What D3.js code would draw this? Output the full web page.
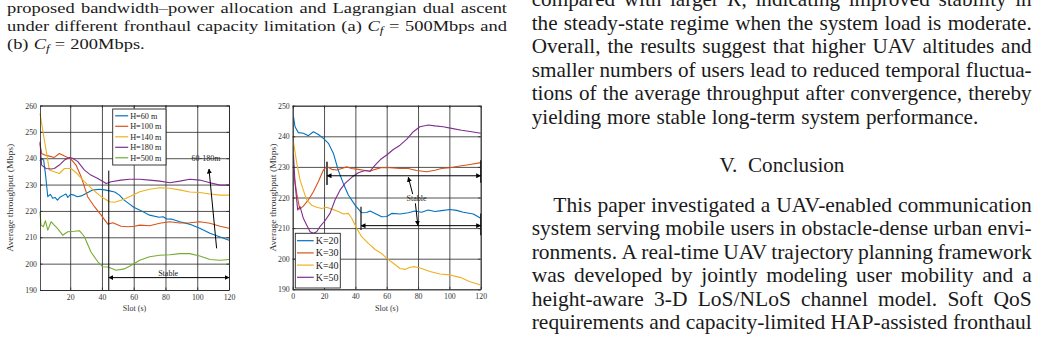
<!DOCTYPE html>
<html>
<head>
<meta charset="utf-8">
<script src="https://cdn.jsdelivr.net/npm/d3@7"></script>
<style>
  body { margin: 0; background: #fff; }
  svg { display: block; }
</style>
</head>
<body>
<svg id="page" width="1040" height="339"></svg>
<script>
// ---- data ----
const slotTicksA = [20, 40, 60, 80, 100, 120];
const slotTicksB = [0, 20, 40, 60, 80, 100, 120];
const thrTicksA = [190, 200, 210, 220, 230, 240, 250, 260];
const thrTicksB = [190, 200, 210, 220, 230, 240, 250];

// (a) Cf = 500Mbps, different altitudes
const heightNames = ['H=60 m', 'H=100 m', 'H=140 m', 'H=180 m', 'H=500 m'];
const slotH60 = [1, 1.6, 3.3, 4.4, 5.9, 7.5, 9, 10.5, 12, 13.8, 16, 17.4, 18.5, 20.2, 22.3, 24.4, 27, 30, 34, 38.5, 41.6, 44.8, 48, 51, 54, 57.4, 60, 64, 70, 76, 78.5, 80.6, 83.7, 89, 95, 101.6, 108, 114, 120];
const thrH60 = [238.9, 239.9, 239.3, 234.2, 225.4, 226.3, 224.8, 225.1, 224.1, 225.3, 226, 226.4, 225.1, 226.3, 226, 225.4, 225.7, 226.6, 227.9, 228.2, 228, 227.6, 227.2, 226, 224.1, 222.6, 221.4, 220.3, 218.4, 217.6, 217.8, 217, 216.9, 215.9, 215, 213.4, 211.5, 210.2, 208.9];
const slotH100 = [1, 2, 4, 6.9, 10, 13.2, 16.4, 20.6, 23.7, 26.9, 31, 35.3, 39.5, 43.7, 46.9, 52, 56.4, 60.6, 63.8, 70, 76.4, 82.7, 89, 95.3, 101.6, 108, 114.3, 120];
const thrH100 = [245.6, 241.8, 241.2, 240.8, 240.3, 241.8, 240.8, 239.6, 237.4, 233, 225.4, 221.6, 218.4, 215, 215.5, 214.2, 214, 214.2, 214.6, 214.4, 215.3, 215.9, 215.4, 215.5, 215.9, 215.3, 214.2, 213.4];
const slotH140 = [1, 2.7, 4.8, 6.9, 10, 13.2, 16.4, 20.6, 23.7, 29, 34, 39.5, 44.8, 48, 54, 60.6, 63.8, 70, 76.4, 82.7, 89, 95.3, 101.6, 108, 114.3, 120];
const thrH140 = [257, 250.7, 243.2, 235.5, 234.9, 234.2, 236.1, 236.1, 234.5, 231.1, 228.2, 225.4, 223.5, 223.3, 224.4, 226.3, 227.3, 228.2, 228.8, 228.6, 228, 227.2, 227, 226.4, 226, 226];
const slotH180 = [1, 2, 4.8, 8, 10, 13.2, 16.4, 19.5, 21.6, 24.8, 29, 33, 37.4, 42.7, 45.8, 52, 57.4, 63.8, 70, 76.4, 82.7, 89, 95.3, 101.6, 108, 114.3, 120];
const thrH180 = [246.3, 237.4, 236.1, 235.9, 236.1, 237.4, 239.3, 240.3, 240, 238.7, 235.5, 233.6, 232.3, 230.4, 231.1, 231.7, 232, 232, 231.7, 231.3, 230.7, 231.3, 232, 231.7, 230.7, 229.8, 229.8];
const slotH500 = [1, 1.6, 3.1, 4.4, 5.9, 8, 10, 12.1, 15.3, 18.5, 22.7, 25.8, 29, 33, 37.4, 40.6, 43.7, 49, 54, 57.4, 63.8, 70, 76.4, 82.7, 89, 95.3, 101.6, 108, 114.3, 120];
const thrH500 = [219.7, 214.6, 214, 216.3, 212.7, 215.9, 214.6, 213.3, 210.8, 212.1, 212.3, 212.5, 210.2, 204.5, 200.7, 198.8, 198.7, 197.5, 198, 199, 201.3, 202.6, 203.2, 203.4, 203.8, 203.8, 202.9, 201.6, 201.3, 201.6];

// (b) Cf = 200Mbps, different numbers of users
const userNames = ['K=20', 'K=30', 'K=40', 'K=50'];
const slotK20 = [0.5, 1.5, 3.6, 6.8, 10, 13.2, 16.4, 19.6, 22.8, 26, 29, 32.3, 35.5, 39.8, 44, 47.2, 49.4, 52.6, 56.8, 60, 63.2, 68.5, 73.8, 78, 82.3, 86.5, 90.8, 95, 100.4, 104.6, 108.9, 115.3, 120];
const thrK20 = [246.4, 243.1, 241.2, 241, 240.2, 241.5, 240.6, 239.3, 237.7, 234.4, 229, 224.6, 220.8, 217.5, 215, 215.1, 215.6, 214.8, 213.7, 213.8, 214.8, 214.6, 215, 215.6, 215.2, 215.9, 215.4, 215.7, 216.1, 215.8, 215.2, 214.6, 213.2];
const slotK30 = [0.5, 2.6, 4.5, 6.8, 10, 13.2, 16.4, 19.6, 21.7, 24.9, 28.1, 31.3, 34.5, 37.7, 41.9, 46.2, 49.4, 52.6, 56.8, 62, 68.5, 73.8, 79, 85.5, 90.8, 95, 100.4, 106.8, 113.2, 120];
const thrK30 = [228.5, 221.3, 216.2, 217.2, 219.2, 221.9, 225.2, 229, 230.1, 229.2, 229, 229.5, 230, 229.5, 229.2, 228.8, 228.6, 229.2, 229.8, 229.7, 229.5, 229.5, 228.8, 228.4, 228.9, 229.5, 229.7, 230.3, 230.8, 231.4];
const slotK40 = [0.5, 2.6, 4.7, 6.8, 8.9, 12.1, 15.3, 18.5, 21.7, 24.9, 29.2, 32.3, 35.5, 37.7, 40.9, 44, 48.3, 52.6, 56.8, 60, 64.2, 68.5, 71.7, 74.9, 78, 82.3, 87.6, 94, 100.4, 106.8, 113.2, 120];
const thrK40 = [238.2, 231.2, 225.7, 222.4, 219.2, 217.5, 216.8, 216.4, 216.8, 216.2, 215.4, 214.6, 214.8, 213.2, 209.9, 207.2, 205, 203, 201.7, 200.1, 198.5, 196.8, 196.5, 197.2, 197.4, 196.8, 195.8, 195, 194.7, 193.9, 192.5, 191.4];
const slotK50 = [0.5, 1.5, 3.2, 4.7, 6.8, 8.9, 11.1, 13.2, 15.3, 17.4, 20.6, 23.8, 27, 30.2, 33.4, 37.7, 41.9, 46.2, 49.4, 52.6, 56, 60, 64.2, 68.5, 72.7, 77, 81.2, 86.5, 90.8, 96, 101.4, 107.8, 114.2, 120];
const thrK50 = [234, 224.6, 215.9, 217, 213.2, 211, 208.8, 208.3, 208.8, 210.5, 212.4, 214.8, 219.2, 222.4, 224.6, 226.6, 228.1, 228.8, 228.6, 230.6, 232.4, 233.9, 235.7, 237.1, 239, 241.5, 243.1, 243.7, 243.4, 243.1, 242.6, 242, 241.5, 241];

// MATLAB default line colours
const colors = ['#0072BD', '#D95319', '#EDB120', '#7E2F8E', '#77AC30'];

// ---- surrounding paper text ----
const captionLines = [
  'proposed bandwidth–power allocation and Lagrangian dual ascent',
  'under different fronthaul capacity limitation (a) $C_f$ = 500Mbps and',
  '(b) $C_f$ = 200Mbps.'
];
const bodyLines = [
  'compared with larger $K$, indicating improved stability in',
  'the steady-state regime when the system load is moderate.',
  'Overall, the results suggest that higher UAV altitudes and',
  'smaller numbers of users lead to reduced temporal fluctua-',
  'tions of the average throughput after convergence, thereby',
  'yielding more stable long-term system performance.'
];
const sectionTitle = 'V.  Conclusion';
const conclusionLines = [
  'This paper investigated a UAV-enabled communication',
  'system serving mobile users in obstacle-dense urban envi-',
  'ronments. A real-time UAV trajectory planning framework',
  'was developed by jointly modeling user mobility and a',
  'height-aware 3-D LoS/NLoS channel model. Soft QoS',
  'requirements and capacity-limited HAP-assisted fronthaul'
];

const serif = '"Liberation Serif", "Times New Roman", serif';
const svg = d3.select('#page');
svg.append('rect').attr('width', 1040).attr('height', 339).attr('fill', '#fff');

// write one word, with $..$ parts in italics (X_y gives a subscript)
function addWord(t, word) {
  word.split('$').forEach((part, i) => {
    if (!part) return;
    if (i % 2 === 0) { t.append('tspan').text(part); return; }
    const [base, sub] = part.split('_');
    t.append('tspan').style('font-style', 'italic').text(base);
    if (sub) t.append('tspan').style('font-style', 'italic')
      .style('font-size', '0.7em').attr('dy', '0.25em').text(sub);
  });
}

function wordWidths(words, size) {
  const g = svg.append('g').style('font-family', serif).style('font-size', size + 'px');
  const w = words.map(wd => { const t = g.append('text'); addWord(t, wd); return t.node().getComputedTextLength(); });
  g.remove();
  return w;
}

// a block of lines: font size picked so justified lines fill the column;
// hscale widens the glyphs instead of making them taller
function setBlock(lines, o) {
  const hs = o.hscale || 1;
  const split = lines.map(l => l.split(' ').filter(w => w.length));
  const ratios = [];
  split.forEach((words, i) => {
    if (i >= o.justified) return;
    const w = wordWidths(words, 10);
    const natural = d3.sum(w) + 2.8 * (words.length - 1);
    ratios.push((o.x1 - (i === 0 ? o.x0 + (o.indent || 0) : o.x0)) / hs / natural);
  });
  const size = 10 * d3.mean(ratios) * (o.shrink || 0.99);
  const g = svg.append('g').attr('transform', `scale(${hs},1)`)
    .style('font-family', serif).style('font-size', size + 'px').attr('fill', '#1a1a1a');
  split.forEach((words, i) => {
    const y = o.y0 + i * o.step;
    const nodes = words.map(wd => { const t = g.append('text').attr('y', y); addWord(t, wd); return t; });
    const widths = nodes.map(n => n.node().getComputedTextLength());
    const start = (i === 0 ? o.x0 + (o.indent || 0) : o.x0) / hs;
    const gap = i < o.justified && words.length > 1 ? (o.x1 / hs - start - d3.sum(widths)) / (words.length - 1) : size * 0.28;
    let x = start;
    nodes.forEach((n, k) => { n.attr('x', x); x += widths[k] + gap; });
  });
  return size;
}

setBlock(captionLines, { x0: 7, x1: 507, y0: 12.8, step: 18.3, justified: 2, hscale: 1.18 });
const bodySize = setBlock(bodyLines, { x0: 531.7, x1: 1031.7, y0: 6, step: 23.5, justified: 5 });
setBlock(conclusionLines, { x0: 531.7, x1: 1031.7, indent: 21.6, y0: 211.7, step: 23.5, justified: 6 });
svg.append('text').attr('x', 782).attr('y', 171.7).attr('text-anchor', 'middle')
  .style('font-family', serif).style('font-size', bodySize + 'px').attr('fill', '#1a1a1a')
  .style('white-space', 'pre').text(sectionTitle);

// arrow heads
const defs = svg.append('defs');
defs.append('marker').attr('id', 'head').attr('viewBox', '0 0 10 10')
  .attr('refX', 9).attr('refY', 5).attr('markerWidth', 5).attr('markerHeight', 5)
  .attr('markerUnits', 'userSpaceOnUse').attr('orient', 'auto-start-reverse')
  .append('path').attr('d', 'M0,0 L10,5 L0,10 z').attr('fill', '#000');

function drawPanel(cfg) {
  const x = d3.scaleLinear().domain(cfg.xDomain).range(cfg.xRange);
  const y = d3.scaleLinear().domain(cfg.yDomain).range(cfg.yRange);
  const [L, R] = cfg.xRange, [B, T] = cfg.yRange;
  const g = svg.append('g');

  // grid
  g.append('g').attr('transform', `translate(0,${B})`)
    .call(d3.axisBottom(x).tickValues(cfg.xTicks).tickSize(-(B - T)).tickFormat(''))
    .call(a => a.select('.domain').remove())
    .selectAll('line').attr('stroke', '#e3e3e3').attr('stroke-width', 0.8);
  g.append('g').attr('transform', `translate(${L},0)`)
    .call(d3.axisLeft(y).tickValues(cfg.yTicks).tickSize(-(R - L)).tickFormat(''))
    .call(a => a.select('.domain').remove())
    .selectAll('line').attr('stroke', '#e3e3e3').attr('stroke-width', 0.8);

  // series
  const line = d3.line().x(d => x(d[0])).y(d => y(d[1]));
  cfg.series.forEach((s, i) => {
    g.append('path').datum(d3.zip(s.slots, s.values))
      .attr('fill', 'none').attr('stroke', colors[i]).attr('stroke-width', 1.1)
      .attr('stroke-linejoin', 'round').attr('d', line);
  });

  // axes with inward ticks, box all round
  const tickFont = a => a.selectAll('text').style('font-family', serif).style('font-size', '7.8px').attr('fill', '#333');
  g.append('g').attr('transform', `translate(0,${B})`)
    .call(d3.axisBottom(x).tickValues(cfg.xTicks).tickSizeInner(-2.5).tickSizeOuter(0).tickPadding(4)).call(tickFont);
  g.append('g').attr('transform', `translate(0,${T})`)
    .call(d3.axisTop(x).tickValues(cfg.xTicks).tickSizeInner(-2.5).tickSizeOuter(0).tickFormat(''));
  g.append('g').attr('transform', `translate(${L},0)`)
    .call(d3.axisLeft(y).tickValues(cfg.yTicks).tickSizeInner(-2.5).tickSizeOuter(0).tickPadding(3)).call(tickFont);
  g.append('g').attr('transform', `translate(${R},0)`)
    .call(d3.axisRight(y).tickValues(cfg.yTicks).tickSizeInner(-2.5).tickSizeOuter(0).tickFormat(''));
  g.selectAll('.domain, .tick line').attr('stroke', '#262626').attr('stroke-width', 0.8);

  g.append('text').attr('x', (L + R) / 2).attr('y', 311).attr('text-anchor', 'middle')
    .style('font-family', serif).style('font-size', '8px').attr('fill', '#333').text('Slot (s)');
  g.append('text').attr('transform', `translate(${cfg.yLabelX},${(B + T) / 2}) rotate(-90)`)
    .attr('text-anchor', 'middle').attr('dy', '0.35em')
    .attr('textLength', 108).attr('lengthAdjust', 'spacingAndGlyphs')
    .style('font-family', serif).style('font-size', '8.5px').attr('fill', '#333')
    .text('Average throughput (Mbps)');

  // annotations
  const ann = g.append('g').attr('stroke', '#000').attr('fill', 'none');
  (cfg.segments || []).forEach(s => {
    ann.append('line').attr('x1', x(s[0])).attr('y1', y(s[1])).attr('x2', x(s[2])).attr('y2', y(s[3]))
      .attr('stroke', s[5] || '#000').attr('stroke-width', s[6] || 1)
      .attr('marker-end', s[4] >= 1 ? 'url(#head)' : null)
      .attr('marker-start', s[4] === 2 ? 'url(#head)' : null);
  });
  (cfg.notes || []).forEach(n => {
    g.append('text').attr('x', x(n[0])).attr('y', y(n[1])).attr('text-anchor', 'middle')
      .style('font-family', serif).style('font-size', '8px').attr('fill', '#222').text(n[2]);
  });

  // legend
  const lg = cfg.legend;
  const leg = g.append('g');
  leg.append('rect').attr('x', lg.x).attr('y', lg.y).attr('width', lg.w).attr('height', lg.h)
    .attr('fill', '#fff').attr('stroke', '#262626').attr('stroke-width', 0.9);
  cfg.series.forEach((s, i) => {
    const ry = lg.y + lg.first + i * lg.step;
    leg.append('line').attr('x1', lg.x + lg.pad).attr('x2', lg.x + lg.pad + lg.len)
      .attr('y1', ry).attr('y2', ry).attr('stroke', colors[i]).attr('stroke-width', 1.2);
    leg.append('text').attr('x', lg.x + lg.pad + lg.len + 2).attr('y', ry).attr('dy', '0.35em')
      .style('font-family', serif).style('font-size', lg.size + 'px').attr('fill', '#222').text(s.name);
  });
}

drawPanel({
  xDomain: [1, 120], xRange: [40, 229], yDomain: [190, 260], yRange: [290, 105.5],
  xTicks: slotTicksA, yTicks: thrTicksA, yLabelX: 10,
  series: [
    { name: heightNames[0], slots: slotH60, values: thrH60 },
    { name: heightNames[1], slots: slotH100, values: thrH100 },
    { name: heightNames[2], slots: slotH140, values: thrH140 },
    { name: heightNames[3], slots: slotH180, values: thrH180 },
    { name: heightNames[4], slots: slotH500, values: thrH500 }
  ],
  // [x1, y1, x2, y2, arrows, colour, width]
  segments: [
    [44.3, 235.3, 44.3, 190, 0],
    [44.3, 194.7, 120, 194.7, 2],
    [112.2, 205.8, 107.4, 235.9, 1]
  ],
  notes: [[81.7, 195.5, 'Stable'], [105.5, 239, '60-180m']],
  legend: { x: 112.7, y: 109, w: 53.3, h: 56, first: 6.8, step: 10.5, pad: 2.5, len: 13, size: 8.2 }
});

drawPanel({
  xDomain: [0, 120], xRange: [292.7, 480.7], yDomain: [190, 250], yRange: [289.3, 105.7],
  xTicks: slotTicksB, yTicks: thrTicksB, yLabelX: 272.7,
  series: [
    { name: userNames[0], slots: slotK20, values: thrK20 },
    { name: userNames[1], slots: slotK30, values: thrK30 },
    { name: userNames[2], slots: slotK40, values: thrK40 },
    { name: userNames[3], slots: slotK50, values: thrK50 }
  ],
  segments: [
    [21.9, 231.7, 21.9, 224.1, 0, '#555', 2],
    [120, 232.2, 120, 224.8, 0, '#222', 1.3],
    [21.9, 227.1, 120, 227.1, 2],
    [43.6, 217, 43.6, 209.4, 0, '#222', 1.3],
    [120, 214.8, 120, 207.7, 0, '#222', 1.3],
    [43.6, 210.8, 120, 210.8, 2],
    [76.6, 221.1, 73.8, 226.6, 1],
    [78.3, 218.1, 79.9, 210.9, 1]
  ],
  notes: [[79.1, 218.7, 'Stable']],
  legend: { x: 295.3, y: 233.3, w: 45, h: 54.7, first: 7.4, step: 12.2, pad: 1.7, len: 16.7, size: 10 }
});
</script>
</body>
</html>
